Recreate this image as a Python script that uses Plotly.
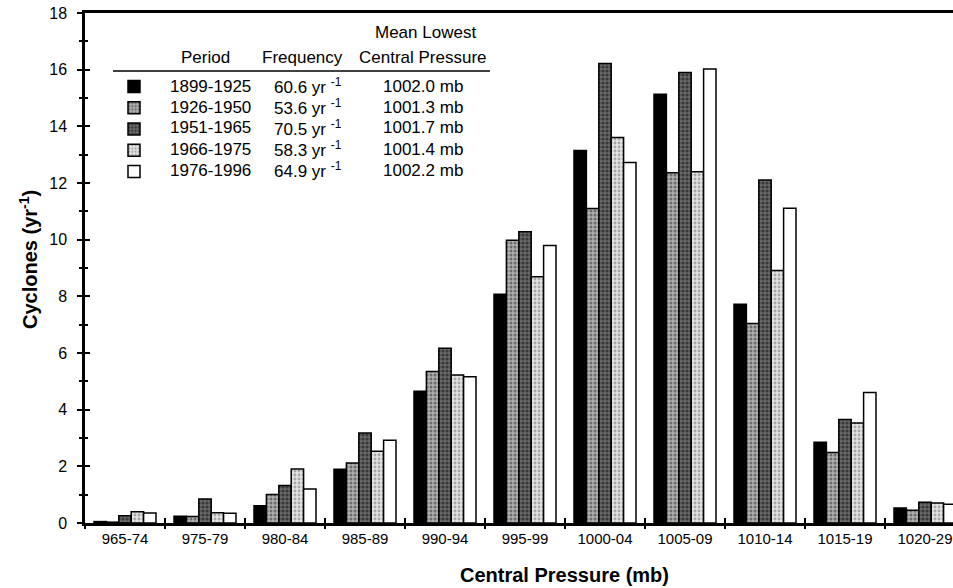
import plotly.graph_objects as go

categories = ["965-74", "975-79", "980-84", "985-89", "990-94", "995-99",
              "1000-04", "1005-09", "1010-14", "1015-19", "1020-29"]
periods = ["1899-1925", "1926-1950", "1951-1965", "1966-1975", "1976-1996"]
frequency = ["60.6", "53.6", "70.5", "58.3", "64.9"]
mean_pressure = ["1002.0", "1001.3", "1001.7", "1001.4", "1002.2"]

v1899 = [0.05, 0.24, 0.61, 1.90, 4.65, 8.07, 13.15, 15.13, 7.72, 2.85, 0.53]
v1926 = [0.03, 0.23, 1.01, 2.12, 5.35, 9.98, 11.10, 12.36, 7.04, 2.49, 0.45]
v1951 = [0.26, 0.85, 1.32, 3.18, 6.17, 10.28, 16.22, 15.90, 12.11, 3.65, 0.73]
v1966 = [0.40, 0.36, 1.91, 2.53, 5.22, 8.69, 13.61, 12.40, 8.91, 3.53, 0.71]
v1976 = [0.35, 0.34, 1.20, 2.92, 5.16, 9.79, 12.72, 16.02, 11.11, 4.61, 0.66]
series = [v1899, v1926, v1951, v1966, v1976]

W, H = 953, 588
L, R, T, B = 85, 0, 13, 65
PW, PH = W - L - R, H - T - B
FONT = "Arial, Liberation Sans, sans-serif"
FS = 17

def px(x):
    return (x - L) / PW

def py(y):
    return (H - B - y) / PH

styles = [
    dict(color="black", pattern=None),
    dict(color="#a8a8a8", pattern=dict(shape=".", bgcolor="#b0b0b0", fgcolor="#2a2a2a", size=4, solidity=0.45)),
    dict(color="#606060", pattern=dict(shape=".", bgcolor="#686868", fgcolor="#0a0a0a", size=4, solidity=0.5)),
    dict(color="#dcdcdc", pattern=dict(shape=".", bgcolor="#e4e4e4", fgcolor="#6a6a6a", size=4, solidity=0.4)),
    dict(color="white", pattern=None),
]

xs = list(range(len(categories)))
fig = go.Figure()
for name, vals, st in zip(periods, series, styles):
    marker = dict(color=st["color"], line=dict(color="black", width=1.5))
    if st["pattern"]:
        marker["pattern"] = st["pattern"]
    # legend swatch only; the period label is drawn as a text annotation
    fig.add_trace(go.Bar(x=xs, y=vals, name=" ", legendgroup=name, hovertext=name,
                         marker=marker))

# empty traces to realise overlay axes used for crossing tick marks
fig.add_trace(go.Scatter(x=[], y=[], xaxis="x2", yaxis="y", showlegend=False))
fig.add_trace(go.Scatter(x=[], y=[], xaxis="x3", yaxis="y", showlegend=False))
fig.add_trace(go.Scatter(x=[], y=[], xaxis="x", yaxis="y2", showlegend=False))

xr = [-0.5, -0.5 + (W - L) / 80.0]
bounds = [i - 0.5 for i in range(len(categories) + 1)]

fig.update_layout(
    width=W, height=H,
    margin=dict(l=L, r=R, t=T, b=B, pad=0),
    paper_bgcolor="white", plot_bgcolor="white",
    font=dict(family=FONT, size=FS, color="black"),
    barmode="group", bargap=0.225, bargroupgap=0,
    xaxis=dict(range=xr, tickmode="array", tickvals=xs, ticktext=categories,
               ticks="", showgrid=False, zeroline=False, showline=True,
               linecolor="black", linewidth=2.5, mirror=True,
               tickfont=dict(size=15), ticklabelstandoff=0, fixedrange=True),
    xaxis2=dict(overlaying="x", anchor="y", range=xr, tickmode="array", tickvals=bounds,
                ticks="outside", ticklen=5, tickwidth=2, tickcolor="black",
                showticklabels=False, showgrid=False, zeroline=False, showline=False),
    xaxis3=dict(overlaying="x", anchor="y", range=xr, tickmode="array", tickvals=bounds,
                ticks="inside", ticklen=5, tickwidth=2, tickcolor="black",
                showticklabels=False, showgrid=False, zeroline=False, showline=False),
    yaxis=dict(range=[0, 18], dtick=2, tick0=0, ticks="outside", ticklen=5, tickwidth=2,
               tickcolor="black", showgrid=False, zeroline=False, showline=True,
               linecolor="black", linewidth=2.5, tickfont=dict(size=16), ticklabelstandoff=7,
               minor=dict(dtick=1, ticks="outside", ticklen=3, tickwidth=1.5, tickcolor="black")),
    yaxis2=dict(overlaying="y", anchor="x", range=[0, 18], dtick=2, tick0=0, ticks="inside",
                ticklen=5, tickwidth=2, tickcolor="black", showticklabels=False,
                showgrid=False, zeroline=False, showline=False,
                minor=dict(dtick=1, ticks="inside", ticklen=3, tickwidth=1.5, tickcolor="black")),
    legend=dict(x=px(100), y=py(71), xanchor="left", yanchor="top",
                bgcolor="rgba(0,0,0,0)", font=dict(size=14), itemwidth=58,
                traceorder="normal"),
    showlegend=True,
)

def a(text, x, y, xanchor="center", **kw):
    d = dict(text=text, x=px(x), y=py(y), xref="paper", yref="paper", showarrow=False,
             xanchor=xanchor, yanchor="middle", font=dict(size=FS))
    d.update(kw)
    return d

ann = [
    a("<b>Central Pressure (mb)</b>", 564, 575, font=dict(size=20)),
    a("<b>Cyclones (yr<sup>-1</sup>)</b>", 28, 260, textangle=-90, font=dict(size=20)),
    a("Period", 205, 57),
    a("Frequency", 302, 57),
    a("Mean Lowest", 425, 33),
    a("Central Pressure", 423, 57),
]
for i, (p, f, m) in enumerate(zip(periods, frequency, mean_pressure)):
    yy = 86 + 21 * i
    ann.append(a(p, 168, yy, xanchor="left"))
    ann.append(a(f"{f} yr <sup>-1</sup>", 272, yy, xanchor="left"))
    ann.append(a(f"{m} mb", 423, yy))
fig.update_layout(annotations=ann)
fig.add_shape(type="line", xref="paper", yref="paper", x0=px(113), x1=px(490), y0=py(71), y1=py(71),
              line=dict(color="black", width=1.5))

fig.write_html("out.html")
